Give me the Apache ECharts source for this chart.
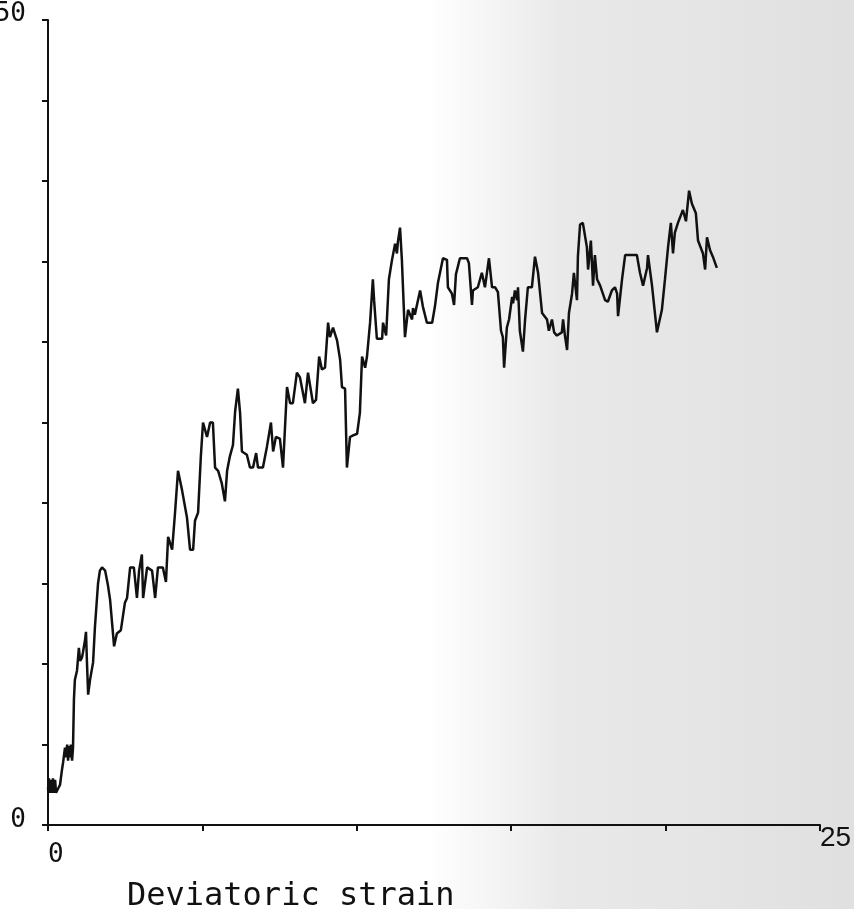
<!DOCTYPE html>
<html>
<head>
<meta charset="utf-8">
<script src="https://cdn.jsdelivr.net/npm/echarts@6/dist/echarts.min.js"></script>
<style>
html,body{margin:0;padding:0;background:#fff;}
#chart{width:854px;height:909px;}
</style>
</head>
<body>
<div id="chart"></div>
<script>
// Deviatoric strain (x) values
const strain = [
0.00,0.03,0.06,0.10,0.13,0.16,0.19,0.23,0.26,0.32,0.39,0.45,0.49,0.52,0.55,0.58,0.62,0.65,0.68,0.71,
0.74,0.78,0.81,0.84,0.87,0.94,1.00,1.04,1.10,1.13,1.20,1.23,1.26,1.30,1.36,1.46,1.52,1.62,1.68,1.75,
1.85,1.94,2.01,2.14,2.23,2.36,2.49,2.56,2.66,2.78,2.88,2.95,3.04,3.08,3.21,3.37,3.47,3.56,3.72,3.82,
3.89,4.02,4.11,4.21,4.34,4.50,4.60,4.70,4.76,4.86,4.95,5.02,5.15,5.25,5.34,5.41,5.51,5.63,5.73,5.80,
5.89,5.99,6.06,6.15,6.22,6.28,6.44,6.54,6.64,6.74,6.80,6.96,7.09,7.22,7.29,7.38,7.51,7.61,7.74,7.84,
7.93,8.06,8.16,8.32,8.42,8.58,8.68,8.78,8.87,8.97,9.07,9.13,9.23,9.36,9.46,9.52,9.62,9.68,9.78,9.88,
10.01,10.10,10.17,10.27,10.33,10.43,10.52,10.56,10.65,10.82,10.85,10.95,11.04,11.14,11.24,11.30,11.33,11.40,11.46,11.56,
11.66,11.79,11.82,11.88,12.05,12.14,12.27,12.44,12.53,12.63,12.79,12.92,12.95,13.08,13.15,13.21,13.34,13.57,13.63,13.73,
13.76,13.92,14.05,14.15,14.28,14.38,14.48,14.57,14.67,14.73,14.77,14.86,14.93,15.03,15.06,15.12,15.19,15.22,15.28,15.38,
15.45,15.54,15.67,15.77,15.87,16.00,16.16,16.22,16.32,16.39,16.48,16.64,16.68,16.74,16.81,16.87,16.97,17.03,17.13,17.16,
17.23,17.32,17.45,17.49,17.58,17.65,17.71,17.78,17.88,18.04,18.13,18.26,18.36,18.43,18.46,18.59,18.69,19.07,19.17,19.27,
19.40,19.43,19.56,19.72,19.88,19.98,20.08,20.17,20.24,20.30,20.40,20.56,20.66,20.76,20.85,20.98,21.05,21.21,21.28,21.34,
21.44,21.53,21.66
];
// Measured response (y) values
const response = [
2.2,2.9,2.0,2.8,2.0,2.9,2.0,2.8,2.0,2.0,2.5,3.4,3.9,4.0,4.8,4.2,5.0,4.0,4.9,4.2,
5.0,4.0,4.8,7.8,9.0,9.6,11.0,10.2,10.4,10.7,11.5,12.0,10.2,8.1,9.0,10.1,12.3,15.0,15.8,16.0,
15.8,14.9,14.0,11.1,11.9,12.1,13.8,14.1,16.0,16.0,14.1,15.8,16.8,14.1,16.0,15.8,14.1,16.0,16.0,15.1,
17.9,17.1,19.3,22.0,20.8,19.1,17.1,17.1,18.9,19.4,22.9,25.0,24.1,25.0,25.0,22.2,22.0,21.2,20.1,22.0,
22.9,23.6,25.7,27.1,25.6,23.2,23.0,22.2,22.2,23.1,22.2,22.2,23.5,25.0,23.2,24.1,24.0,22.2,27.2,26.2,
26.2,28.1,27.8,26.2,28.1,26.2,26.4,29.1,28.3,28.4,31.2,30.3,30.9,30.1,28.9,27.2,27.1,22.2,24.1,24.2,
24.3,25.6,29.1,28.4,29.1,31.2,33.9,32.6,30.2,30.2,31.2,30.4,33.9,35.1,36.1,35.5,36.2,37.1,35.1,30.3,
32.0,31.4,32.1,31.7,33.2,32.2,31.2,31.2,32.2,33.7,35.2,35.1,33.4,33.0,32.3,34.2,35.2,35.2,34.9,32.3,
33.2,33.4,34.3,33.4,35.2,33.4,33.4,33.1,30.7,30.3,28.4,30.9,31.4,32.8,32.4,33.2,32.6,33.4,30.7,29.4,
31.4,33.4,33.4,35.3,34.3,31.8,31.4,30.7,31.4,30.6,30.4,30.6,31.4,30.4,29.5,31.8,33.0,34.3,32.6,35.3,
37.3,37.4,35.9,34.5,36.3,33.5,35.4,33.9,33.5,32.6,32.5,33.2,33.4,33.0,31.6,33.9,35.4,35.4,34.3,33.5,
34.6,35.4,33.5,30.6,32.0,33.9,35.9,37.4,35.5,36.8,37.4,38.2,37.5,39.4,38.6,38.0,36.3,35.5,34.5,36.5,
35.7,35.3,34.6
];
const xTickLabels = ['0', '25'];
const yTickLabels = ['0', '50'];
const xTitle = 'Deviatoric strain';

const chart = echarts.init(document.getElementById('chart'), null, {renderer: 'canvas'});
const mono = 'DejaVu Sans Mono';

chart.setOption({
  animation: false,
  backgroundColor: {
    type: 'linear', x: 0, y: 0, x2: 1, y2: 0,
    colorStops: [
      {offset: 0, color: '#ffffff'},
      {offset: 0.5, color: '#ffffff'},
      {offset: 0.66, color: '#e9e9e9'},
      {offset: 1, color: '#e0e0e0'}
    ]
  },
  title: {
    text: xTitle,
    left: 122,
    top: 876,
    textStyle: {fontFamily: mono, fontSize: 32, fontWeight: 'normal', color: '#111'}
  },
  grid: {left: 48, right: 34, top: 20, bottom: 84, containLabel: false, outerBoundsMode: 'none'},
  xAxis: {
    type: 'value',
    min: 0, max: 25, interval: 5,
    axisLine: {lineStyle: {color: '#111', width: 2}},
    axisTick: {show: true, inside: false, length: 6, lineStyle: {color: '#111', width: 2}},
    splitLine: {show: false},
    axisLabel: {
      show: true,
      margin: 10,
      align: 'left',
      verticalAlign: 'top',
      formatter: function (v) {
        if (v === 0) return '{a|' + xTickLabels[0] + '}';
        if (v === 25) return '{b|' + xTickLabels[1] + '}';
        return '';
      },
      rich: {
        a: {fontFamily: mono, fontSize: 26, color: '#111', lineHeight: 40},
        b: {fontFamily: 'Liberation Sans', fontSize: 28, color: '#111', lineHeight: 6}
      }
    }
  },
  yAxis: {
    type: 'value',
    min: 0, max: 50, interval: 5,
    axisLine: {show: true, lineStyle: {color: '#111', width: 2}},
    axisTick: {show: true, inside: false, length: 6, lineStyle: {color: '#111', width: 2}},
    splitLine: {show: false},
    axisLabel: {
      show: true,
      margin: 22,
      verticalAlign: 'middle',
      formatter: function (v) {
        if (v === 0) return '{z|' + yTickLabels[0] + '}';
        if (v === 50) return '{t|' + yTickLabels[1] + '}';
        return '';
      },
      rich: {
        z: {fontFamily: mono, fontSize: 26, color: '#111', lineHeight: 26, padding: [0, 0, 10, 0]},
        t: {fontFamily: mono, fontSize: 26, color: '#111', lineHeight: 26, padding: [0, 0, 12, 0]}
      }
    }
  },
  series: [{
    type: 'line',
    data: strain.map(function (x, i) { return [x, response[i]]; }),
    showSymbol: false,
    symbol: 'none',
    lineStyle: {color: '#111', width: 2.5},
    clip: false
  }]
});
</script>
</body>
</html>
